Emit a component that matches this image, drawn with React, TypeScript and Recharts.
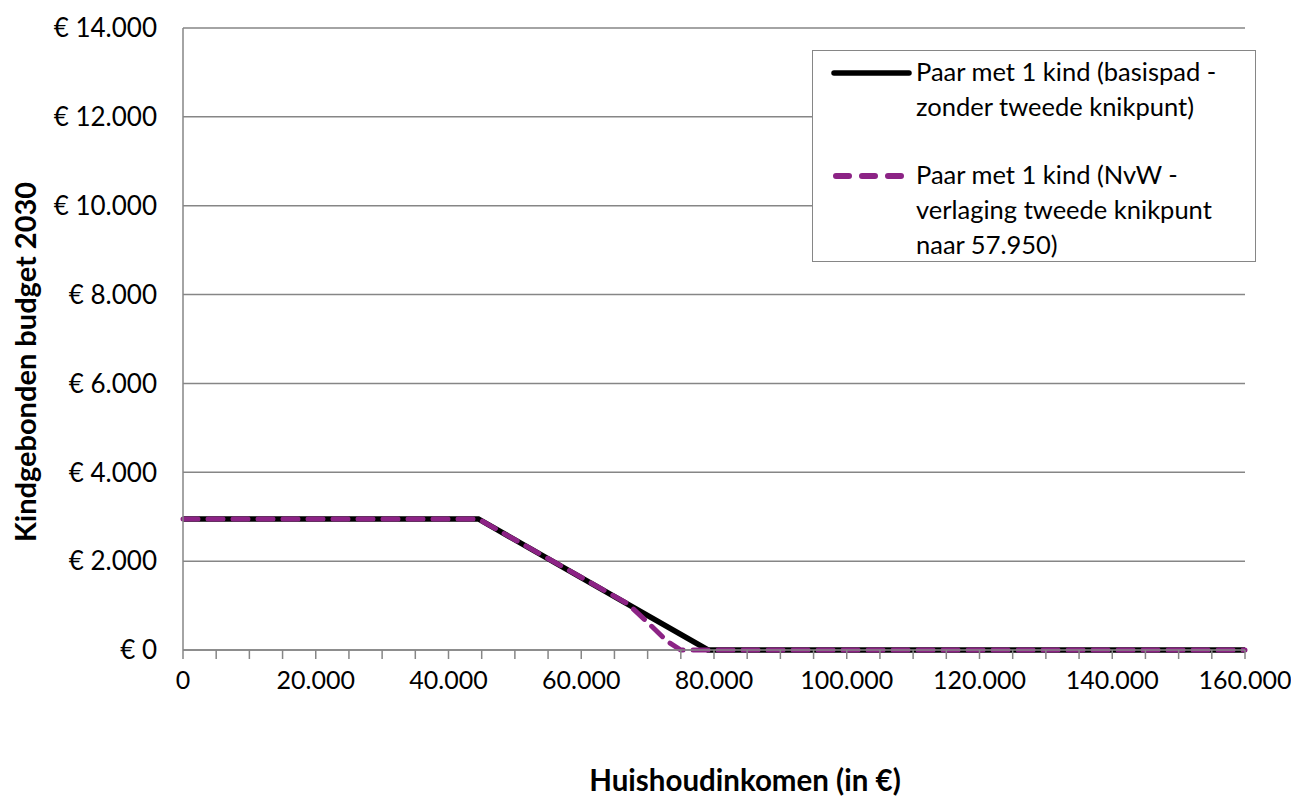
import React from 'react';
import { LineChart, Line, XAxis, YAxis, CartesianGrid, Legend } from 'recharts';

// income (x) and budget (y) per series
const basisIncome = [0, 44500, 79100, 160000];
const basisBudget = [2950, 2950, 0, 0];

const nvwIncome = [0, 44500, 67000, 70000, 73000, 75000, 160000];
const nvwBudget = [2950, 2950, 1040, 620, 190, 0, 0];

const xTicks = [
  0, 5000, 10000, 15000, 20000, 25000, 30000, 35000, 40000, 45000, 50000, 55000, 60000, 65000, 70000, 75000, 80000,
  85000, 90000, 95000, 100000, 105000, 110000, 115000, 120000, 125000, 130000, 135000, 140000, 145000, 150000,
  155000, 160000,
];
const xLabelTicks = [0, 20000, 40000, 60000, 80000, 100000, 120000, 140000, 160000];
const yTicks = [0, 2000, 4000, 6000, 8000, 10000, 12000, 14000];

const seriesNames = [
  ['Paar met 1 kind (basispad -', 'zonder tweede knikpunt)'],
  ['Paar met 1 kind (NvW -', 'verlaging tweede knikpunt', 'naar 57.950)'],
];

const FONT = 'Lato, "Open Sans", sans-serif';
const GRID = '#868686';
const PURPLE = '#8C2385';

const fmt = (v: number) => String(v).replace(/\B(?=(\d{3})+(?!\d))/g, '.');

const basisData = basisIncome.map((x, i) => ({ x, y: basisBudget[i] }));
const nvwData = nvwIncome.map((x, i) => ({ x, y: nvwBudget[i] }));

const LegendBox = () => (
  <div
    style={{
      border: `1px solid ${GRID}`,
      background: '#fff',
      width: 442,
      height: 210,
      fontFamily: FONT,
      fontSize: 25.5,
      color: '#000',
      position: 'relative',
    }}
  >
    {seriesNames.map((lines, i) => (
      <div key={i} style={{ position: 'absolute', left: 0, top: i === 0 ? 3 : 106, width: 440 }}>
        <svg width={100} height={34} style={{ position: 'absolute', left: 16, top: 2 }}>
          {i === 0 ? (
            <line x1={5} y1={17} x2={80} y2={17} stroke="#000" strokeWidth={5.5} strokeLinecap="round" />
          ) : (
            <line
              x1={7}
              y1={17}
              x2={80}
              y2={17}
              stroke={PURPLE}
              strokeWidth={6}
              strokeLinecap="round"
              strokeDasharray="13 13"
            />
          )}
        </svg>
        <div style={{ position: 'absolute', left: 103, top: 0, lineHeight: '35px', whiteSpace: 'nowrap' }}>
          {lines.map((l, j) => (
            <div key={j}>{l}</div>
          ))}
        </div>
      </div>
    ))}
  </div>
);

export default function App() {
  return (
    <div style={{ width: 1283, height: 795, background: '#fff' }}>
      <LineChart width={1283} height={795} margin={{ top: 20, right: 46, left: 0, bottom: 0 }}>
        <CartesianGrid vertical={false} stroke={GRID} strokeWidth={1.5} />
        <XAxis
          type="number"
          dataKey="x"
          domain={[0, 160000]}
          ticks={xTicks}
          interval={0}
          height={153}
          stroke={GRID}
          strokeWidth={1.5}
          tickSize={9}
          tickMargin={12}
          tick={{ fill: '#000', fontSize: 25, fontFamily: FONT }}
          tickFormatter={(v: number) => (xLabelTicks.includes(v) ? fmt(v) : '')}
          label={{
            content: (props: any) => {
              const vb = props.viewBox || {};
              const cx = 737;
              const cy = (vb.y ?? 642) + 129;
              return (
                <text
                  x={cx}
                  y={cy}
                  textAnchor="middle"
                  dominantBaseline="central"
                  fill="#000"
                  fontSize={29.5}
                  fontWeight={700}
                  fontFamily={FONT}
                >
                  Huishoudinkomen (in €)
                </text>
              );
            },
          }}
        />
        <YAxis
          type="number"
          dataKey="y"
          domain={[0, 14000]}
          ticks={yTicks}
          interval={0}
          width={175}
          stroke={GRID}
          strokeWidth={1.5}
          tickLine={false}
          tickSize={0}
          tickMargin={26}
          tick={{ fill: '#000', fontSize: 26, fontFamily: FONT }}
          tickFormatter={(v: number) => `€ ${fmt(v)}`}
          label={{
            content: (props: any) => {
              const vb = props.viewBox || {};
              const cx = 16;
              const cy = (vb.y ?? 20) + (vb.height ?? 622) / 2 + 23;
              return (
                <text
                  x={cx}
                  y={cy}
                  transform={`rotate(-90 ${cx} ${cy})`}
                  textAnchor="middle"
                  dominantBaseline="central"
                  fill="#000"
                  fontSize={29}
                  fontWeight={700}
                  fontFamily={FONT}
                >
                  Kindgebonden budget 2030
                </text>
              );
            },
          }}
        />
        <Legend
          layout="vertical"
          align="center"
          verticalAlign="middle"
          content={() => <LegendBox />}
          wrapperStyle={{ position: 'absolute', left: 804, top: 42, width: 444 }}
        />
        <Line
          data={basisData}
          dataKey="y"
          type="linear"
          stroke="#000"
          strokeWidth={5.5}
          dot={false}
          isAnimationActive={false}
        />
        <Line
          data={nvwData}
          dataKey="y"
          type="linear"
          stroke={PURPLE}
          strokeWidth={5}
          strokeDasharray="15 10"
          strokeLinecap="round"
          dot={false}
          isAnimationActive={false}
        />
      </LineChart>
    </div>
  );
}
